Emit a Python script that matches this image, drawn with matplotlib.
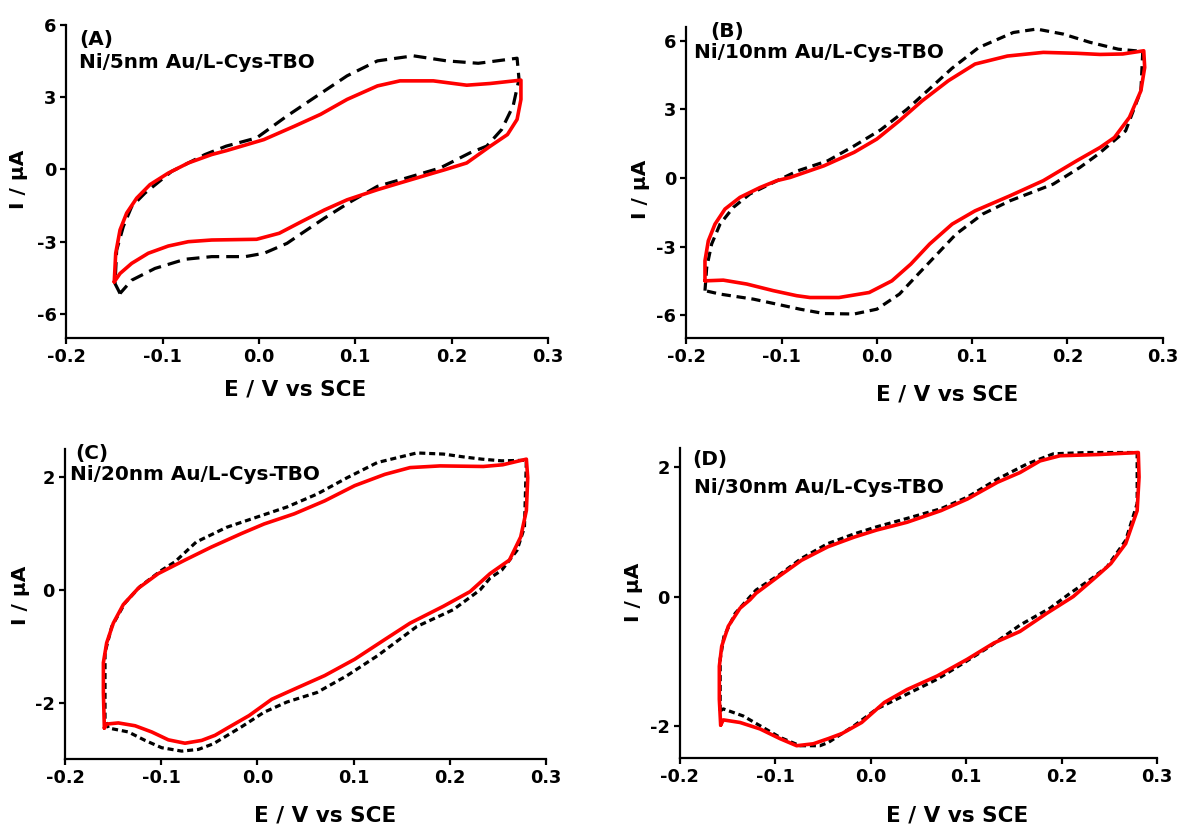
import matplotlib
matplotlib.use("Agg")
import matplotlib.pyplot as plt

plt.rcParams['font.family'] = ['DejaVu Sans']
plt.rcParams['font.weight'] = 'bold'

# ---------------- data (E / V vs SCE, I / uA) ----------------
labels = ["(A)", "(B)", "(C)", "(D)"]
names = ["Ni/5nm Au/L-Cys-TBO", "Ni/10nm Au/L-Cys-TBO",
         "Ni/20nm Au/L-Cys-TBO", "Ni/30nm Au/L-Cys-TBO"]
xticks = [-0.2, -0.1, 0.0, 0.1, 0.2, 0.3]
yticks_A = [-6, -3, 0, 3, 6]
yticks_B = [-6, -3, 0, 3, 6]
yticks_C = [-2, 0, 2]
yticks_D = [-2, 0, 2]

A_red_E = [-0.1503, -0.1488, -0.1443, -0.1374, -0.127, -0.1132, -0.0942, -0.0734, -0.0491, -0.034, 0.005, 0.037,
           0.064, 0.0915, 0.123, 0.1464, 0.181, 0.2157, 0.2399, 0.272,
           0.272, 0.268, 0.258, 0.2399, 0.2157, 0.193, 0.181, 0.1464, 0.123, 0.0915, 0.068, 0.0445, 0.021,
           -0.0025, -0.0491, -0.0734, -0.0942, -0.115, -0.1322, -0.1443, -0.1503]
A_red_I = [-4.67, -3.48, -2.51, -1.81, -1.19, -0.63, -0.15, 0.27, 0.62, 0.78, 1.24, 1.80,
           2.29, 2.91, 3.47, 3.68, 3.68, 3.50, 3.57, 3.71,
           2.91, 2.08, 1.45, 0.96, 0.27, -0.01, -0.15, -0.56, -0.84, -1.26, -1.68, -2.16, -2.65,
           -2.90, -2.93, -3.00, -3.18, -3.48, -3.90, -4.32, -4.67]
A_blk_E = [-0.1443, -0.1495, -0.1478, -0.1409, -0.1322, -0.1184, -0.0907, -0.0561, -0.034, -0.0025, 0.029, 0.060,
           0.0915, 0.123, 0.1603, 0.1949, 0.2277, 0.268,
           0.270, 0.2639, 0.252, 0.2365, 0.2191, 0.188, 0.1534, 0.123, 0.0955, 0.068, 0.0445, 0.029, 0.0053,
           -0.0143, -0.0491, -0.0768, -0.108, -0.1322, -0.1443]
A_blk_I = [-5.15, -4.74, -3.35, -2.37, -1.54, -0.98, -0.08, 0.62, 0.97, 1.31, 2.22, 3.05,
           3.89, 4.51, 4.72, 4.51, 4.41, 4.62,
           3.75, 2.64, 1.66, 0.97, 0.69, 0.06, -0.35, -0.70, -1.33, -2.02, -2.65, -3.07, -3.48,
           -3.62, -3.62, -3.73, -4.11, -4.60, -5.15]

B_red_E = [-0.1803, -0.1803, -0.1768, -0.1698, -0.1593, -0.1436, -0.1226, -0.105, -0.091, -0.0555, -0.0238, 0.0,
           0.0237, 0.0475, 0.075, 0.103, 0.137, 0.1746, 0.2097, 0.2341, 0.258, 0.280,
           0.281, 0.277, 0.265, 0.2493, 0.2341, 0.2097, 0.1746, 0.1397, 0.103, 0.079, 0.0554, 0.0356, 0.0158,
           -0.008, -0.0397, -0.0701, -0.0841, -0.1086, -0.1365, -0.1611, -0.1803]
B_red_I = [-4.50, -3.62, -2.75, -2.02, -1.36, -0.85, -0.42, -0.12, 0.02, 0.53, 1.12, 1.70,
           2.50, 3.37, 4.25, 4.98, 5.33, 5.49, 5.45, 5.40, 5.42, 5.56,
           4.83, 3.81, 2.65, 1.77, 1.33, 0.75, -0.12, -0.78, -1.44, -2.02, -2.89, -3.77, -4.50,
           -5.01, -5.23, -5.23, -5.15, -4.93, -4.64, -4.47, -4.50]
B_blk_E = [-0.1803, -0.1785, -0.1733, -0.1645, -0.1506, -0.1331, -0.1121, -0.083, -0.0515, -0.0238, 0.0039,
           0.0316, 0.0554, 0.079, 0.1068, 0.1432, 0.1677, 0.1956, 0.2236, 0.2533, 0.279,
           0.277, 0.261, 0.2323, 0.2131, 0.1851, 0.1397, 0.111, 0.083, 0.0633, 0.0435, 0.0237, 0.0, -0.0238,
           -0.0555, -0.0806, -0.1016, -0.1296, -0.1645, -0.1803]
B_blk_I = [-4.93, -3.92, -2.89, -2.02, -1.29, -0.70, -0.27, 0.31, 0.75, 1.40, 2.10,
           3.00, 3.90, 4.80, 5.70, 6.36, 6.51, 6.29, 5.93, 5.63, 5.53,
           3.81, 2.06, 1.04, 0.46, -0.27, -1.00, -1.58, -2.46, -3.33, -4.20, -5.08, -5.74, -5.95,
           -5.93, -5.74, -5.55, -5.30, -5.08, -4.93]

C_red_E = [-0.159, -0.160, -0.160, -0.1566, -0.1497, -0.1393, -0.1237, -0.1029, -0.0752, -0.0478, -0.0165, 0.007,
           0.0384, 0.070, 0.1012, 0.1325, 0.1587, 0.1899, 0.2349, 0.255, 0.2796,
           0.281, 0.2796, 0.2737, 0.262, 0.2419, 0.2211, 0.1934, 0.1587, 0.1325, 0.1012, 0.070, 0.0384, 0.015,
           -0.0086, -0.032, -0.044, -0.0578, -0.0752, -0.0925, -0.1098, -0.1271, -0.1445, -0.1566, -0.159]
C_red_I = [-2.45, -1.82, -1.29, -0.94, -0.59, -0.26, 0.03, 0.29, 0.53, 0.76, 1.00, 1.17,
           1.35, 1.58, 1.85, 2.05, 2.17, 2.20, 2.19, 2.22, 2.32,
           1.99, 1.41, 0.94, 0.53, 0.29, -0.03, -0.29, -0.59, -0.88, -1.23, -1.52, -1.76, -1.94,
           -2.23, -2.46, -2.58, -2.67, -2.72, -2.66, -2.52, -2.41, -2.36, -2.38, -2.45]
C_blk_E = [-0.1549, -0.1583, -0.1583, -0.1513, -0.1375, -0.1219, -0.0994, -0.0855, -0.0635, -0.032, -0.0008,
           0.0306, 0.062, 0.0933, 0.1247, 0.1657, 0.1934, 0.2142, 0.2333, 0.254, 0.2796,
           0.2776, 0.2698, 0.254, 0.2419, 0.2315, 0.2037, 0.1657, 0.1247, 0.0933, 0.062, 0.0306, 0.007, -0.0165,
           -0.0457, -0.0613, -0.0786, -0.0994, -0.1167, -0.1341, -0.1549]
C_blk_I = [-2.45, -2.30, -1.11, -0.65, -0.23, 0.06, 0.35, 0.50, 0.85, 1.11, 1.29,
           1.47, 1.70, 1.99, 2.26, 2.43, 2.41, 2.36, 2.32, 2.29, 2.30,
           1.11, 0.70, 0.35, 0.21, 0.00, -0.35, -0.65, -1.17, -1.52, -1.82, -1.99, -2.17, -2.43,
           -2.73, -2.83, -2.86, -2.80, -2.67, -2.52, -2.45]

D_red_E = [-0.1572, -0.1586, -0.1586, -0.1561, -0.1492, -0.1369, -0.1265, -0.1202, -0.0964, -0.0727, -0.045,
           -0.0174, 0.0063, 0.038, 0.0735, 0.1012, 0.1328, 0.1563, 0.1773, 0.1982, 0.2401, 0.2802,
           0.2810, 0.279, 0.267, 0.2514, 0.2401, 0.2121, 0.1843, 0.1563, 0.1289, 0.1012, 0.0696, 0.038, 0.0142,
           -0.0095, -0.030, -0.0445, -0.0602, -0.0776, -0.0951, -0.116, -0.1369, -0.1544, -0.1572]
D_red_I = [-1.99, -1.59, -1.08, -0.77, -0.46, -0.18, -0.05, 0.05, 0.31, 0.56, 0.77,
           0.92, 1.03, 1.15, 1.33, 1.51, 1.77, 1.92, 2.10, 2.18, 2.20, 2.23,
           1.85, 1.33, 0.82, 0.51, 0.36, 0.00, -0.26, -0.54, -0.72, -0.97, -1.23, -1.44, -1.64,
           -1.95, -2.12, -2.20, -2.28, -2.31, -2.20, -2.05, -1.95, -1.91, -1.99]
D_blk_E = [-0.1577, -0.1577, -0.1538, -0.142, -0.1202, -0.0964, -0.0727, -0.045, -0.0174, 0.0063, 0.038, 0.0735,
           0.1012, 0.1328, 0.1633, 0.1912, 0.2262, 0.2514, 0.279,
           0.279, 0.267, 0.2475, 0.2314, 0.2087, 0.1877, 0.1565, 0.125, 0.0972, 0.0696, 0.034, 0.0063, -0.0174,
           -0.0445, -0.0532, -0.0741, -0.0951, -0.116, -0.1335, -0.1544, -0.1577]
D_blk_I = [-1.77, -0.97, -0.62, -0.26, 0.10, 0.33, 0.59, 0.82, 0.97, 1.08, 1.21, 1.36,
           1.54, 1.82, 2.05, 2.21, 2.23, 2.23, 2.23,
           1.44, 0.87, 0.46, 0.28, 0.05, -0.18, -0.44, -0.77, -1.03, -1.28, -1.54, -1.74, -2.00,
           -2.26, -2.31, -2.31, -2.18, -2.00, -1.85, -1.74, -1.77]

# ---------------- layout ----------------
W, H = 1185, 826
fig = plt.figure(figsize=(W / 100, H / 100), dpi=100)

panels = [
    dict(box=(66.4, 25, 547.9, 338), ylim=(-7, 6), yt=yticks_A, red=(A_red_E, A_red_I), blk=(A_blk_E, A_blk_I),
         dash=(4.0, 2.2), xl=(0.475, -0.166), yl=(-0.099, 0.508),
         t1=(79, 40), t2=(79, 63)),
    dict(box=(686.2, 27, 1162.8, 338), ylim=(-7, 6.6), yt=yticks_B, red=(B_red_E, B_red_I),
         blk=(B_blk_E, B_blk_I),
         dash=(2.9, 1.8), xl=(0.547, -0.183), yl=(-0.095, 0.479),
         t1=(710, 31), t2=(694.5, 53)),
    dict(box=(64.9, 449, 546, 759), ylim=(-3, 2.5), yt=yticks_C, red=(C_red_E, C_red_I), blk=(C_blk_E, C_blk_I),
         dash=(1.9, 1.2), xl=(0.540, -0.181), yl=(-0.092, 0.529),
         t1=(75.5, 454), t2=(69.8, 475)),
    dict(box=(679.8, 448, 1157.2, 758), ylim=(-2.5, 2.3), yt=yticks_D, red=(D_red_E, D_red_I),
         blk=(D_blk_E, D_blk_I),
         dash=(1.9, 1.2), xl=(0.581, -0.184), yl=(-0.097, 0.536),
         t1=(692, 459), t2=(694, 487.5)),
]

for i, p in enumerate(panels):
    x0, y0, x1, y1 = p['box']
    ax = fig.add_axes([x0 / W, 1 - y1 / H, (x1 - x0) / W, (y1 - y0) / H])
    ax.plot(p['blk'][0], p['blk'][1], color='black', lw=2.3, linestyle=(0, p['dash']),
            solid_joinstyle='round')
    ax.plot(p['red'][0], p['red'][1], color='#ff0000', lw=2.6, solid_joinstyle='round',
            solid_capstyle='round')
    ax.set_xlim(-0.2, 0.3)
    ax.set_ylim(*p['ylim'])
    ax.set_xticks(xticks)
    ax.set_xticklabels([f"{v:.1f}" for v in xticks])
    ax.set_yticks(p['yt'])
    ax.set_yticklabels([str(v) for v in p['yt']])
    for s in ('top', 'right'):
        ax.spines[s].set_visible(False)
    for s in ('left', 'bottom'):
        ax.spines[s].set_linewidth(1.6)
    ax.tick_params(direction='out', length=4.2, width=1.6, labelsize=12.8, pad=3)
    for lab in ax.get_xticklabels() + ax.get_yticklabels():
        lab.set_fontweight('bold')
    ax.set_xlabel("E / V vs SCE", fontsize=15.5, fontweight='bold')
    ax.xaxis.set_label_coords(*p['xl'])
    ax.xaxis.label.set_va('center')
    ax.set_ylabel("I / \u03bcA", fontsize=14.5, fontweight='bold')
    ax.yaxis.set_label_coords(*p['yl'])
    ax.yaxis.label.set_va('center')
    fig.text(p['t1'][0] / W, 1 - p['t1'][1] / H, labels[i], fontsize=14.4, fontweight='bold',
             ha='left', va='center')
    fig.text(p['t2'][0] / W, 1 - p['t2'][1] / H, names[i], fontsize=14.4, fontweight='bold',
             ha='left', va='center')

fig.savefig("out.png", dpi=100)
